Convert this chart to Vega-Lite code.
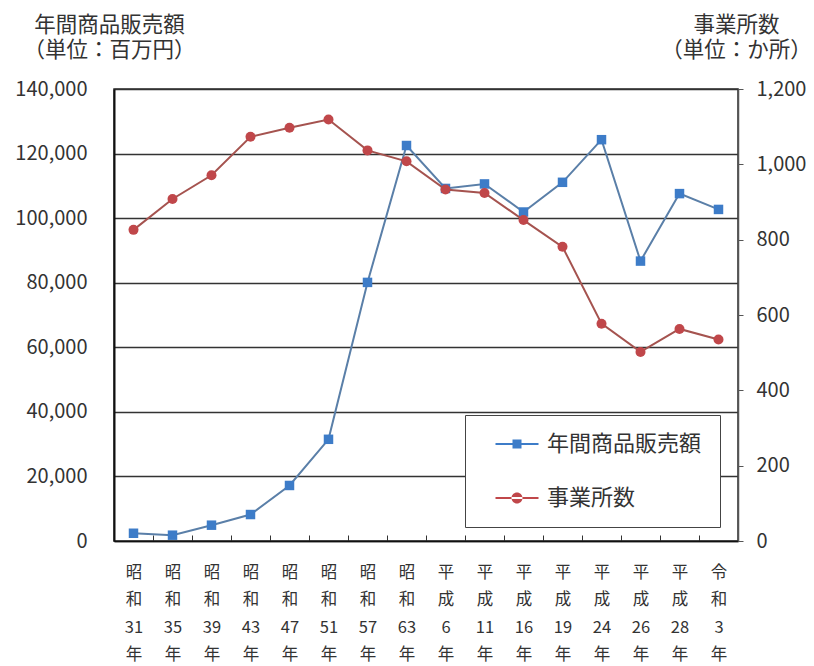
{
  "$schema": "https://vega.github.io/schema/vega-lite/v6.json",
  "width": 624,
  "height": 452,
  "autosize": {"type": "none"},
  "padding": {"left": 114, "top": 89, "right": 76, "bottom": 125},
  "background": "white",
  "config": {
    "font": "Noto Sans CJK JP",
    "view": {"stroke": "#2b2b2b", "strokeWidth": 1.5},
    "legend": {
      "orient": "none",
      "legendX": 351,
      "legendY": 326,
      "padding": 18,
      "fillColor": "white",
      "strokeColor": "#444",
      "symbolSize": 400,
      "symbolOffset": 23,
      "labelOffset": 19,
      "labelFontSize": 22,
      "labelColor": "#333",
      "rowPadding": 32,
      "symbolStrokeWidth": 0,
      "symbolOpacity": 1
    }
  },
  "data": {
    "values": [
      {"year": "昭和31年", "sales": 2400, "count": 826},
      {"year": "昭和35年", "sales": 1800, "count": 908},
      {"year": "昭和39年", "sales": 4900, "count": 971},
      {"year": "昭和43年", "sales": 8200, "count": 1073},
      {"year": "昭和47年", "sales": 17200, "count": 1097},
      {"year": "昭和51年", "sales": 31500, "count": 1119},
      {"year": "昭和57年", "sales": 80100, "count": 1037},
      {"year": "昭和63年", "sales": 122500, "count": 1008},
      {"year": "平成6年", "sales": 109200, "count": 933},
      {"year": "平成11年", "sales": 110600, "count": 924},
      {"year": "平成16年", "sales": 101900, "count": 852},
      {"year": "平成19年", "sales": 111100, "count": 781},
      {"year": "平成24年", "sales": 124300, "count": 577},
      {"year": "平成26年", "sales": 86700, "count": 502},
      {"year": "平成28年", "sales": 107600, "count": 563},
      {"year": "令和3年", "sales": 102700, "count": 535}
    ]
  },
  "encoding": {
    "x": {
      "field": "year",
      "type": "nominal",
      "sort": null,
      "bandPosition": 0.5,
      "scale": {"type": "band", "paddingInner": 0, "paddingOuter": 0},
      "axis": {
        "title": null,
        "labelAngle": 0,
        "labelExpr": "datum.label ? [substring(datum.label,0,1), substring(datum.label,1,2), slice(datum.label,2,-1), slice(datum.label,-1)] : ''",
        "labelFontSize": 16.5,
        "labelLineHeight": 27.5,
        "labelBaseline": "top",
        "labelPadding": 29,
        "labelColor": "#333",
        "tickBand": "extent",
        "tickSize": -6,
        "tickColor": "#333",
        "domainColor": "#111",
        "domainWidth": 1.5
      }
    }
  },
  "layer": [
    {
      "layer": [
        {
          "mark": {"type": "line", "color": "#5a7fa8", "strokeWidth": 2},
          "encoding": {
            "y": {
              "field": "sales",
              "type": "quantitative",
              "scale": {"domain": [0, 140000]},
              "axis": {
                "orient": "left",
                "title": ["年間商品販売額", "（単位：百万円）"],
                "titleAngle": 0,
                "titleAlign": "center",
                "titleBaseline": "top",
                "titleX": -5,
                "titleY": -75,
                "titleFontSize": 21.5,
                "titleFontWeight": "normal",
                "titleColor": "#333",
                "titleLineHeight": 25.5,
                "values": [0, 20000, 40000, 60000, 80000, 100000, 120000, 140000],
                "format": ",d",
                "labelFontSize": 20,
                "labelColor": "#333",
                "labelPadding": 27,
                "ticks": false,
                "grid": true,
                "gridColor": "#333",
                "gridWidth": 1.3,
                "domainColor": "#111",
                "domainWidth": 2
              }
            }
          }
        },
        {
          "mark": {"type": "point", "shape": "square", "filled": true, "size": 90, "opacity": 1, "color": "#3d7cc8"},
          "encoding": {
            "y": {"field": "sales", "type": "quantitative"}
          }
        }
      ]
    },
    {
      "layer": [
        {
          "mark": {"type": "line", "color": "#a5534f", "strokeWidth": 2},
          "encoding": {
            "y": {
              "field": "count",
              "type": "quantitative",
              "scale": {"domain": [0, 1200]},
              "axis": {
                "orient": "right",
                "title": ["事業所数", "（単位：か所）"],
                "titleAngle": 0,
                "titleAlign": "center",
                "titleBaseline": "top",
                "titleX": -2,
                "titleY": -75,
                "titleFontSize": 21.5,
                "titleFontWeight": "normal",
                "titleColor": "#333",
                "titleLineHeight": 25.5,
                "values": [0, 200, 400, 600, 800, 1000, 1200],
                "format": ",d",
                "labelFontSize": 20,
                "labelColor": "#333",
                "labelPadding": 13,
                "grid": false,
                "ticks": true,
                "tickSize": 5,
                "tickColor": "#555",
                "domainColor": "#555",
                "domainWidth": 1.5
              }
            }
          }
        },
        {
          "mark": {"type": "point", "shape": "circle", "filled": true, "size": 100, "opacity": 1, "color": "#c0474a"},
          "encoding": {
            "y": {"field": "count", "type": "quantitative"}
          }
        }
      ]
    },
    {
      "transform": [{"filter": "false"}],
      "mark": {"type": "point", "filled": true, "opacity": 1},
      "encoding": {
        "color": {
          "datum": "年間商品販売額",
          "scale": {"domain": ["年間商品販売額", "事業所数"], "range": ["#3d7cc8", "#c0474a"]},
          "legend": {"title": null}
        },
        "shape": {
          "datum": "年間商品販売額",
          "scale": {
            "domain": ["年間商品販売額", "事業所数"],
            "range": [
              "M-2.15,-0.1H2.15V0.1H-2.15Z M-0.45,-0.45H0.45V0.45H-0.45Z",
              "M-2.15,-0.1H2.15V0.1H-2.15Z M0.55,0A0.55,0.55,0,1,0,-0.55,0A0.55,0.55,0,1,0,0.55,0Z"
            ]
          },
          "legend": {"title": null}
        }
      }
    },
    {
      "transform": [{"filter": "false"}],
      "mark": {"type": "point", "filled": true, "opacity": 1},
      "encoding": {
        "color": {"datum": "事業所数", "legend": {"title": null}},
        "shape": {"datum": "事業所数", "legend": {"title": null}}
      }
    }
  ],
  "resolve": {"scale": {"y": "independent"}}
}
